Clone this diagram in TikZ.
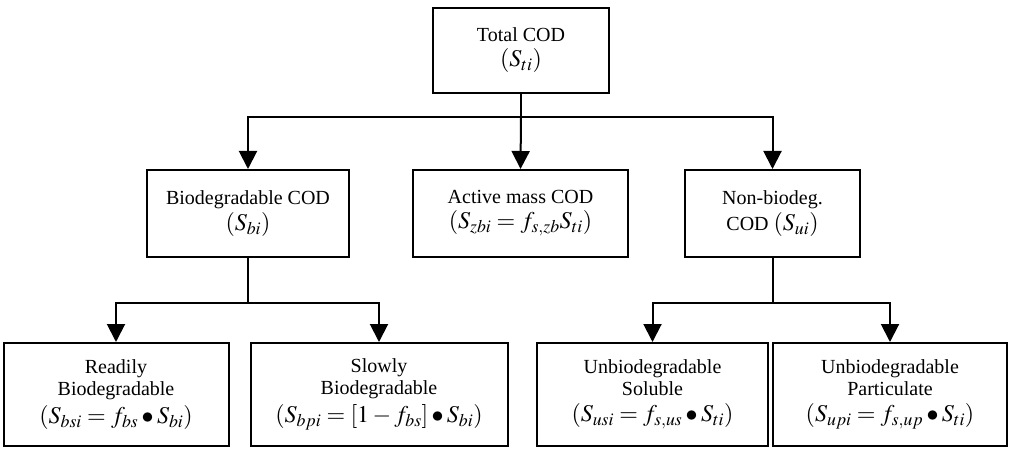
\documentclass[tikz,border=0pt]{standalone}
\usepackage{mathptmx}
\usepackage{fontspec}
\setmainfont{Liberation Serif}
\usetikzlibrary{arrows.meta}

\newcommand{\eqline}[1]{{\fontsize{24}{27}\selectfont\boldmath$#1$}}

\begin{document}
\begin{tikzpicture}[
  x=1pt, y=-1pt,
  box/.style={rectangle, draw, line width=2pt, align=center, font=\fontsize{20}{22}\selectfont, inner sep=2pt},
  link/.style={line width=2pt},
  arr/.style={-{Triangle[length=18pt, width=18pt]}, line width=2pt}
]
\useasboundingbox (0,0) rectangle (1009,449);

\node[box, minimum width=176pt, minimum height=85pt] (total) at (521, 50.5) {Total COD\\[3pt]\eqline{(S_{ti})}};

\node[box, minimum width=202pt, minimum height=87pt] (bio) at (248, 213.5) {Biodegradable COD\\[3pt]\eqline{(S_{bi})}};
\node[box, minimum width=215pt, minimum height=87pt] (active) at (520.5, 213.5) {Active mass COD\\[3pt]\eqline{(S_{zbi} = f_{s,zb}S_{ti})}};
\node[box, minimum width=175pt, minimum height=87pt] (nonbio) at (772.5, 213.5) {Non-biodeg.\\[3pt]COD \eqline{(S_{ui})}};

\node[box, minimum width=225pt, minimum height=103pt] (readily) at (116, 394.5) {Readily\\Biodegradable\\[4pt]\eqline{(S_{bsi} = f_{bs} \bullet S_{bi})}};
\node[box, minimum width=257pt, minimum height=103pt] (slowly) at (379, 394.5) {Slowly\\Biodegradable\\[4pt]\eqline{(S_{bpi} = [1 - f_{bs}] \bullet S_{bi})}};
\node[box, minimum width=231pt, minimum height=103pt] (soluble) at (652.5, 394.5) {Unbiodegradable\\Soluble\\[4pt]\eqline{(S_{usi} = f_{s,us} \bullet S_{ti})}};
\node[box, minimum width=234pt, minimum height=103pt] (partic) at (890, 394.5) {Unbiodegradable\\Particulate\\[4pt]\eqline{(S_{upi} = f_{s,up} \bullet S_{ti})}};

\coordinate (j0) at (521, 117);
\coordinate (j1) at (248, 303);
\coordinate (j2) at (772.5, 303);

\draw[link] (total.south) -- (j0);
\draw[arr] (j0) -| (bio.north);
\draw[arr] (j0) -- (active.north);
\draw[arr] (j0) -| (nonbio.north);

\draw[link] (bio.south) -- (j1);
\draw[arr] (j1) -| (readily.north);
\draw[arr] (j1) -| (slowly.north);

\draw[link] (nonbio.south) -- (j2);
\draw[arr] (j2) -| (soluble.north);
\draw[arr] (j2) -| (partic.north);

\end{tikzpicture}
\end{document}
